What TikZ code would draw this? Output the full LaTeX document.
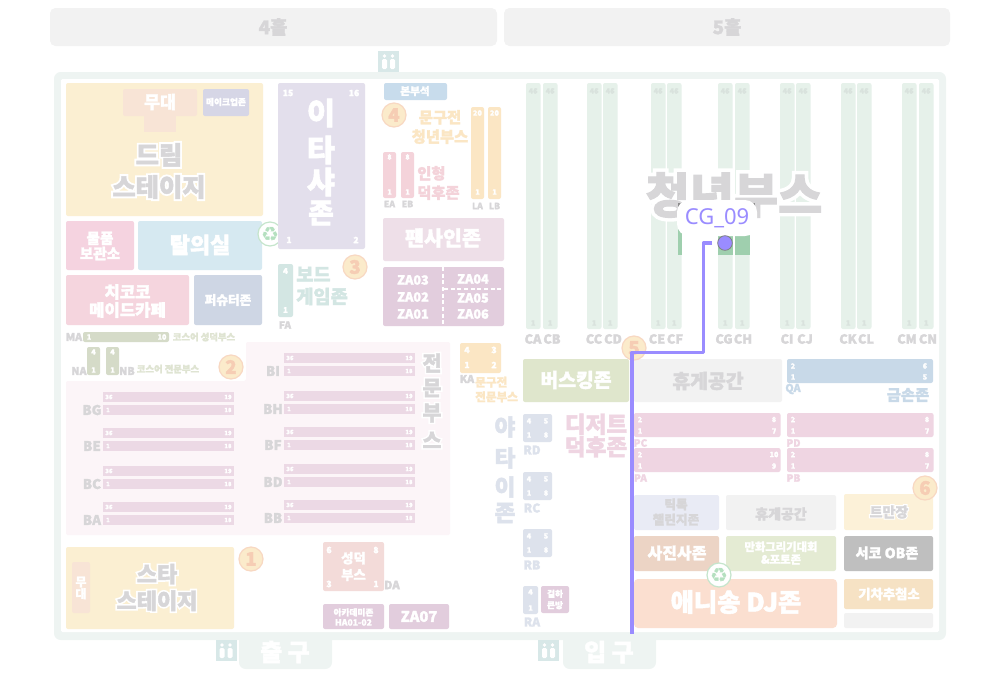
\documentclass[tikz,border=0pt]{standalone}
\usepackage{fontspec}
\newfontfamily\kr[BoldFeatures={FakeBold=2}]{Noto Sans CJK KR}
\newfontfamily\krhalo[BoldFeatures={FakeBold=17}]{Noto Sans CJK KR}
\newfontfamily\lat{Noto Sans}
\newfontfamily\sym{DejaVu Sans}
\def\halo#1{\leavevmode\rlap{\color{white}\krhalo #1}#1}
\definecolor{inkgray}{HTML}{D7D6D8}
\definecolor{hallgray}{HTML}{F2F2F2}
\definecolor{framegreen}{HTML}{EEF4F2}
\definecolor{toiletblue}{HTML}{D8E8E8}
\definecolor{stagecream}{HTML}{FBEFD2}
\definecolor{stagepeach}{HTML}{F8E4D6}
\definecolor{stripgreen}{HTML}{E6F1EA}
\definecolor{stripnum}{HTML}{D9E2DD}
\definecolor{pickgreen}{HTML}{9FCFAE}
\definecolor{rowpink}{HTML}{ECD9E5}
\definecolor{areapink}{HTML}{FCF5F8}
\definecolor{boothpink}{HTML}{EFD5E2}
\definecolor{mauve}{HTML}{E2CDDD}
\definecolor{sand}{HTML}{FBE6C4}
\definecolor{rose}{HTML}{F4D3DA}
\definecolor{olive}{HTML}{D5DBC8}
\definecolor{olivetext}{HTML}{DFE4D2}
\definecolor{bluegray}{HTML}{DDE2EC}
\definecolor{skyblue}{HTML}{C8D9E8}
\definecolor{routeblue}{HTML}{9A8CFF}
\definecolor{ringfill}{HTML}{FBEBCB}
\definecolor{ringline}{HTML}{F8D8C2}
\definecolor{ringnum}{HTML}{F6CDB4}
\definecolor{recycleline}{HTML}{C5E5CC}
\definecolor{recyclemark}{HTML}{B5E0C0}
\definecolor{makeupgray}{HTML}{D6D6E6}
\definecolor{goodspink}{HTML}{F5D3E0}
\definecolor{dressblue}{HTML}{D6E9F1}
\definecolor{maidpink}{HTML}{F5D5DE}
\definecolor{shooterblue}{HTML}{CED6E4}
\definecolor{itapurple}{HTML}{E3DFEC}
\definecolor{boardgreen}{HTML}{D3E6E3}
\definecolor{fanbooth}{HTML}{F3DBD9}
\definecolor{officeblue}{HTML}{C8DCEC}
\definecolor{signmauve}{HTML}{EEDFE8}
\definecolor{buskgreen}{HTML}{DFE6CC}
\definecolor{tiktokblue}{HTML}{E9EBF5}
\definecolor{tmancream}{HTML}{FCF1D8}
\definecolor{photobrown}{HTML}{ECD4C5}
\definecolor{drawgreen}{HTML}{E4EBD3}
\definecolor{seocogray}{HTML}{BFBFBF}
\definecolor{djpeach}{HTML}{FBDFD0}
\definecolor{lotterysand}{HTML}{F6E2C4}
\tikzset{
  zone/.style={rounded corners=1.5},
  txt/.style n args={3}{text=#1,font=\kr\bfseries\fontsize{#2}{#3}\selectfont,align=center,inner sep=0pt},
  sm/.style={txt={white}{#1}{#1}},
  tag/.style={txt={inkgray}{#1}{#1}},
  numcirc/.style={circle,fill=ringfill,draw=ringline,line width=0.9pt,minimum size=18pt,inner sep=0pt,text=ringnum,font=\kr\bfseries\fontsize{14}{14}\selectfont},
  recycle/.style={circle,fill=white,draw=recycleline,line width=0.9pt,minimum size=18pt,inner sep=0pt,text=recyclemark,font=\sym\fontsize{15}{15}\selectfont},
  route/.style={draw=routeblue,line width=2.4,line join=round}
}
\begin{document}
\begin{tikzpicture}[x=0.75pt,y=-0.75pt]
\useasboundingbox (0,0) rectangle (1000,679);
% halls
\fill[hallgray,rounded corners=4] (50,8) rectangle (497,46);
\fill[hallgray,rounded corners=4] (504,8) rectangle (950,46);
\node[txt={inkgray}{14}{14}] (hallfour) at (273,27) {4홀};
\node[txt={inkgray}{14}{14}] (hallfive) at (727,27) {5홀};

% exits and frame
\fill[framegreen,rounded corners=5] (239,630) rectangle (332,669);
\fill[framegreen,rounded corners=5] (563,630) rectangle (656,669);
\fill[framegreen,rounded corners=5] (54,72) rectangle (946,640);
\fill[white,rounded corners=1] (61,79) rectangle (939,632);
\node[txt={white}{18}{18}] (exitout) at (285,652) {출 구};
\node[txt={white}{18}{18}] (exitin) at (609,652) {입 구};
\foreach \rx/\ry in {378/51,215.5/640,538/640}{
\fill[toiletblue] (\rx,\ry) rectangle (\rx+21,\ry+21);
\foreach \d in {6.5,14.5}{
\fill[white] (\rx+\d,\ry+5) circle (1.8);
\fill[white,rounded corners=1] (\rx+\d-2.5,\ry+8) rectangle (\rx+\d+2.5,\ry+18);
}
}

% dream stage corner
\fill[zone,stagecream] (66,83) rectangle (263,216);
\fill[zone,stagepeach] (123,89) rectangle (197,116);
\fill[stagepeach] (144,114) rectangle (176,132);
\fill[zone,fill=makeupgray] (203,89) rectangle (249,116);
\node[txt={white}{13}{13}] (stagedream) at (160,102) {무대};
\node[txt={white}{6.5}{6.5}] (makeup) at (226,102) {메이크업존};
\node[txt={inkgray}{19}{24}] (dream) at (159,171) {\halo{드림}\\\halo{스테이지}};
\fill[zone,fill=goodspink] (66,221) rectangle (134,270);
\fill[zone,fill=dressblue] (138,221) rectangle (262,270);
\fill[zone,fill=maidpink] (66,275) rectangle (189,325);
\fill[zone,fill=shooterblue] (194,275) rectangle (262,325);
\node[txt={white}{11}{11.5}] (goods) at (100,246) {물품\\보관소};
\node[txt={white}{16.5}{16.5}] (dress) at (200,245) {탈의실};
\node[txt={white}{12.5}{13.5}] (maid) at (127.5,301) {치코코\\메이드카페};
\node[txt={white}{9.5}{9.5}] (shooter) at (228,300) {퍼슈터존};
\node[recycle] (bina) at (270,234) {♻};

% itasha and board
\fill[zone,fill=itapurple] (278,83) rectangle (365,249);
\node[sm=6.5] (itaa) at (288,93) {15};
\node[sm=6.5] (itab) at (354,93) {16};
\node[sm=6.5] (itac) at (289,240) {1};
\node[sm=6.5] (itad) at (356,240) {2};
\node[txt={white}{23}{23}] (itae) at (321,113) {이};
\node[txt={white}{23}{23}] (itaf) at (321,150) {타};
\node[txt={white}{23}{23}] (itag) at (321,182) {샤};
\node[txt={white}{21}{21}] (itah) at (321,213) {존};
\fill[zone,fill=boardgreen] (278,264) rectangle (293,317);
\node[sm=6] (faa) at (285.5,271) {4};
\node[sm=6] (fab) at (285.5,310) {1};
\node[tag=7.5] (fac) at (285,325) {FA};
\node[txt={boardgreen}{14}{16.5},anchor=west,align=left] (board) at (296,286) {보드\\게임존};
\node[numcirc] (ringthree) at (355,267) {3};

% cosplayer booths
\fill[zone,olive] (83,332) rectangle (169,342);
\node[tag=8] (maa) at (74,337) {MA};
\node[sm=5.5] (mab) at (89,337) {1};
\node[sm=5.5] (mac) at (162,337) {10};
\node[txt={olivetext}{7}{7}] (mad) at (204,337) {코스어 성덕부스};
\foreach \nm/\bx/\lx in {NA/87/79,NB/106/127}{
\fill[zone,olive] (\bx,347) rectangle (\bx+13,375);
\node[sm=5.5] (\nm-a) at (\bx+6.5,352) {4};
\node[sm=5.5] (\nm-b) at (\bx+6.5,370) {1};
\node[tag=8] (\nm-c) at (\lx,371) {\nm};
}
\node[txt={olivetext}{7}{7}] (nad) at (168,369) {코스어 전문부스};
\node[numcirc] (ringtwo) at (231,367) {2};

% expert booth area
\fill[areapink,rounded corners=1.5] (66,381) -- (246,381) -- (246,342) -- (450,342) -- (450,535) -- (66,535) -- cycle;
\foreach \nm/\bx/\by in {BG/103/392,BE/103/428,BC/103/466,BA/103/502,BI/284/353,BH/284/391,BF/284/427,BD/284/464,BB/284/500}{
\fill[rowpink] (\bx,\by) rectangle (\bx+131,\by+10);
\fill[rowpink] (\bx,\by+13) rectangle (\bx+131,\by+23);
\node[sm=4.5] (\nm-a) at (\bx+6,\by+5) {36};
\node[sm=4.5] (\nm-b) at (\bx+125,\by+5) {19};
\node[sm=4.5] (\nm-c) at (\bx+5,\by+18) {1};
\node[sm=4.5] (\nm-d) at (\bx+125,\by+18) {18};
\node[tag=10] (\nm-e) at (\bx-11,\by+18) {\nm};
}
\foreach \nm/\gy/\gl in {pa/363/전,pb/388/문,pc/413/부,pd/440/스}{
\node[txt={inkgray}{15.5}{15.5}] (expert\nm) at (432,\gy) {\halo{\gl}};
}

% star stage and bottom
\fill[zone,stagecream] (66,547) rectangle (234,629);
\fill[zone,stagepeach] (72,562) rectangle (90,613);
\node[txt={white}{9}{9}] (stagestar) at (81,588) {무\\대};
\node[txt={inkgray}{16.5}{20}] (star) at (157,587.5) {\halo{스타}\\\halo{스테이지}};
\node[numcirc] (ringone) at (251,559) {1};
\fill[zone,fill=fanbooth] (323,542) rectangle (384,591);
\node[txt={white}{10}{12.5}] (fanbox) at (353.5,566.5) {성덕\\부스};
\node[sm=6.5] (daa) at (329,550) {6};
\node[sm=6.5] (dab) at (376,550) {8};
\node[sm=6.5] (dac) at (329,584) {3};
\node[sm=6.5] (dad) at (376,584) {1};
\node[tag=8.5] (dae) at (392,585) {DA};
\fill[zone,mauve] (323,604) rectangle (384,629);
\fill[zone,mauve] (389,604) rectangle (449,629);
\node[txt={white}{6.5}{7.5}] (academy) at (353.5,617) {아카데미존\\HA01-02};
\node[txt={white}{11}{11}] (zaseven) at (419,616.5) {ZA07};

% middle column
\fill[zone,officeblue] (384,83) rectangle (447,100);
\node[txt={white}{8}{8}] (office) at (415,91) {본부석};
\node[numcirc] (ringfour) at (394,115) {4};
\node[txt={sand}{11.5}{14.5}] (youngpen) at (440,127) {문구전\\청년부스};
\foreach \nm/\bx in {EA/383,EB/401}{
\fill[zone,rose] (\bx,152) rectangle (\bx+13,198);
\node[sm=5.5] (\nm-a) at (\bx+6.5,157) {8};
\node[sm=5.5] (\nm-b) at (\bx+6.5,192) {1};
\node[tag=6.5] (\nm-c) at (\bx+6.5,204) {\nm};
}
\node[txt={rose}{11.5}{14.5},anchor=west,align=left] (dollfan) at (417,183) {인형\\덕후존};
\foreach \nm/\bx in {LA/471,LB/488}{
\fill[zone,sand] (\bx,107) rectangle (\bx+13,199);
\node[sm=5.5] (\nm-a) at (\bx+6.5,113) {20};
\node[sm=5.5] (\nm-b) at (\bx+6.5,192) {1};
\node[tag=6.5] (\nm-c) at (\bx+6.5,206) {\nm};
}
\fill[zone,fill=signmauve] (383,218) rectangle (504,261);
\node[txt={white}{15.5}{15.5}] (fansign) at (443,238) {팬사인존};
\fill[zone,mauve] (383,267) rectangle (504,326);
\draw[white,densely dashed,line width=0.8] (443,267) -- (443,326);
\draw[white,densely dashed,line width=0.8] (444,289) -- (503,289);
\foreach \nm/\gx/\gy in {ZA03/413/280,ZA02/413/297,ZA01/413/314,ZA04/473/279,ZA05/473/298,ZA06/473/314}{
\node[txt={white}{9.5}{9.5}] (\nm) at (\gx,\gy) {\nm};
}
\fill[zone,sand] (460,343) rectangle (501,373);
\node[sm=6.5] (kaa) at (467,350) {4};
\node[sm=6.5] (kab) at (494,350) {3};
\node[sm=6.5] (kac) at (467,365) {1};
\node[sm=6.5] (kad) at (494,365) {2};
\node[tag=8] (kae) at (467,379) {KA};
\node[txt={sand}{8.7}{11},anchor=west,align=left] (expertpen) at (475,389.5) {문구전\\전문부스};

% youth booth strips
\foreach \nm/\bx/\lx in {CA/526/533,CB/543/552,CC/587/594,CD/603/613,CE/651/657,CF/667/675,CG/718/724,CH/735/743,CI/780/787,CJ/796/805,CK/841/848,CL/857/866,CM/902/907,CN/919/928}{
\fill[zone,stripgreen] (\bx,83) rectangle (\bx+14.5,329);
\node[txt={stripnum}{5.5}{5.5}] (\nm-a) at (\bx+7.2,91) {46};
\node[txt={stripnum}{5.5}{5.5}] (\nm-b) at (\bx+7.2,323) {1};
\node[tag=9.5] (\nm-c) at (\lx,339) {\nm};
}
\fill[pickgreen] (677.5,223) rectangle (682,255);
\fill[pickgreen] (718,224) rectangle (732.5,255);
\fill[pickgreen] (735,224) rectangle (749.5,255);
\node[txt={inkgray}{36}{36}] (youth) at (734,195) {\halo{청년부스}};
\fill[gray!90] (678,203) rectangle (684,210);
\fill[gray!90] (749,203) rectangle (755,210);

% right part
\fill[zone,fill=buskgreen] (523,359) rectangle (629,402);
\node[txt={white}{14.5}{14.5}] (busking) at (576,380) {버스킹존};
\fill[zone,hallgray] (634,359) rectangle (782,402);
\node[txt={inkgray}{14.5}{14.5}] (resta) at (708,381) {휴게공간};
\fill[zone,skyblue] (787,359) rectangle (933,383);
\node[sm=5.5] (qaa) at (793,366) {2};
\node[sm=5.5] (qab) at (925,366) {6};
\node[sm=5.5] (qac) at (793,377) {1};
\node[sm=5.5] (qad) at (925,377) {5};
\node[txt={skyblue}{8}{8}] (qae) at (793,389) {QA};
\node[txt={skyblue}{11.5}{11.5}] (gold) at (908,395) {금손존};
\foreach \nm/\bx/\by/\ra/\rb in {PC/634/413/8/7,PD/787/413/8/7,PA/634/448/10/9,PB/787/448/8/7}{
\fill[zone,boothpink] (\bx,\by) rectangle (\bx+146.5,\by+24);
\node[sm=5.5] (\nm-a) at (\bx+6,\by+6.5) {2};
\node[sm=5.5] (\nm-b) at (\bx+140,\by+6.5) {\ra};
\node[sm=5.5] (\nm-c) at (\bx+6,\by+18) {1};
\node[sm=5.5] (\nm-d) at (\bx+140,\by+18) {\rb};
\node[txt={boothpink}{7.5}{7.5}] (\nm-e) at (\bx+6.5,\by+30) {\nm};
}
\fill[zone,fill=tiktokblue] (634,495) rectangle (719,530);
\fill[zone,hallgray] (726,495) rectangle (836,530);
\fill[zone,fill=tmancream] (844,494) rectangle (933,530);
\node[txt={inkgray}{9.5}{11.5}] (tiktok) at (676,512) {틱톡\\챌린지존};
\node[txt={inkgray}{10.5}{10.5}] (restb) at (781,514) {휴게공간};
\node[txt={inkgray}{10.5}{10.5}] (tman) at (889,512) {\halo{트만장}};
\node[numcirc] (ringsix) at (925,488) {6};
\fill[zone,fill=photobrown] (634,536) rectangle (719,571);
\fill[zone,fill=drawgreen] (726,536) rectangle (836,571);
\fill[zone,fill=seocogray] (844,536) rectangle (933,571);
\node[txt={white}{12}{12}] (photo) at (677,553) {사진사존};
\node[txt={white}{8.5}{9.5}] (drawing) at (781,553) {만화그리기대회\\\&포토존};
\node[txt={white}{10.5}{10.5}] (seoco) at (887,553) {서코 OB존};
\fill[fill=djpeach,rounded corners=3] (634,579) rectangle (837,628);
\fill[zone,fill=lotterysand] (844,579) rectangle (933,609);
\fill[zone,hallgray] (844,613) rectangle (933,628);
\node[txt={white}{19}{19}] (djzone) at (736,602) {애니송 DJ존};
\node[txt={white}{10}{10}] (lottery) at (889,594) {기차추첨소};
\node[recycle] (binb) at (719,575) {♻};

% yatai and dessert
\foreach \nm/\gy/\gl in {ya/427/야,ta/458/타,ib/487/이,jo/513/존}{
\node[txt={bluegray}{17}{17}] (yatai\nm) at (505,\gy) {\gl};
}
\node[txt={boothpink}{17}{17}] (dessert) at (596,435.5) {디저트\\덕후존};
\foreach \nm/\by in {RD/414,RC/472,RB/529}{
\fill[zone,bluegray] (523,\by) rectangle (552,\by+28);
\node[sm=5.5] (\nm-a) at (529,\by+7) {4};
\node[sm=5.5] (\nm-b) at (546,\by+7) {5};
\node[sm=5.5] (\nm-c) at (529,\by+21) {1};
\node[sm=5.5] (\nm-d) at (546,\by+21) {8};
\node[txt={bluegray}{9}{9}] (\nm-e) at (532,\by+36) {\nm};
}
\fill[zone,bluegray] (523,586) rectangle (538,614);
\node[sm=5.5] (raa) at (530.5,592) {4};
\node[sm=5.5] (rab) at (530.5,608) {1};
\node[txt={bluegray}{9}{9}] (rac) at (532,622) {RA};
\fill[zone,mauve] (541,586) rectangle (569,613);
\node[txt={white}{6.5}{8.5}] (bigroom) at (555,599.5) {걸하\\큰방};

% route to the picked booth
\node[numcirc] (ringfive) at (634,348) {5};
\node[text=routeblue,fill=white,rounded corners=9,minimum width=60pt,minimum height=27pt,inner sep=0pt,font=\lat\fontsize{16.5}{16.5}\selectfont] (cgtag) at (717,218) {CG\_09};
\node[circle,fill=routeblue,draw=gray,line width=0.6,minimum size=11pt,inner sep=0pt] (cgdot) at (725,243) {};
\coordinate (routestart) at (712,243);
\coordinate (benda) at (703.5,243);
\coordinate (bendb) at (703.5,352.5);
\coordinate (bendc) at (632,352.5);
\coordinate (routeend) at (632,634);
\draw[route] (routestart) -- (benda) -- (bendb) -- (bendc) -- (routeend);
\end{tikzpicture}
\end{document}
